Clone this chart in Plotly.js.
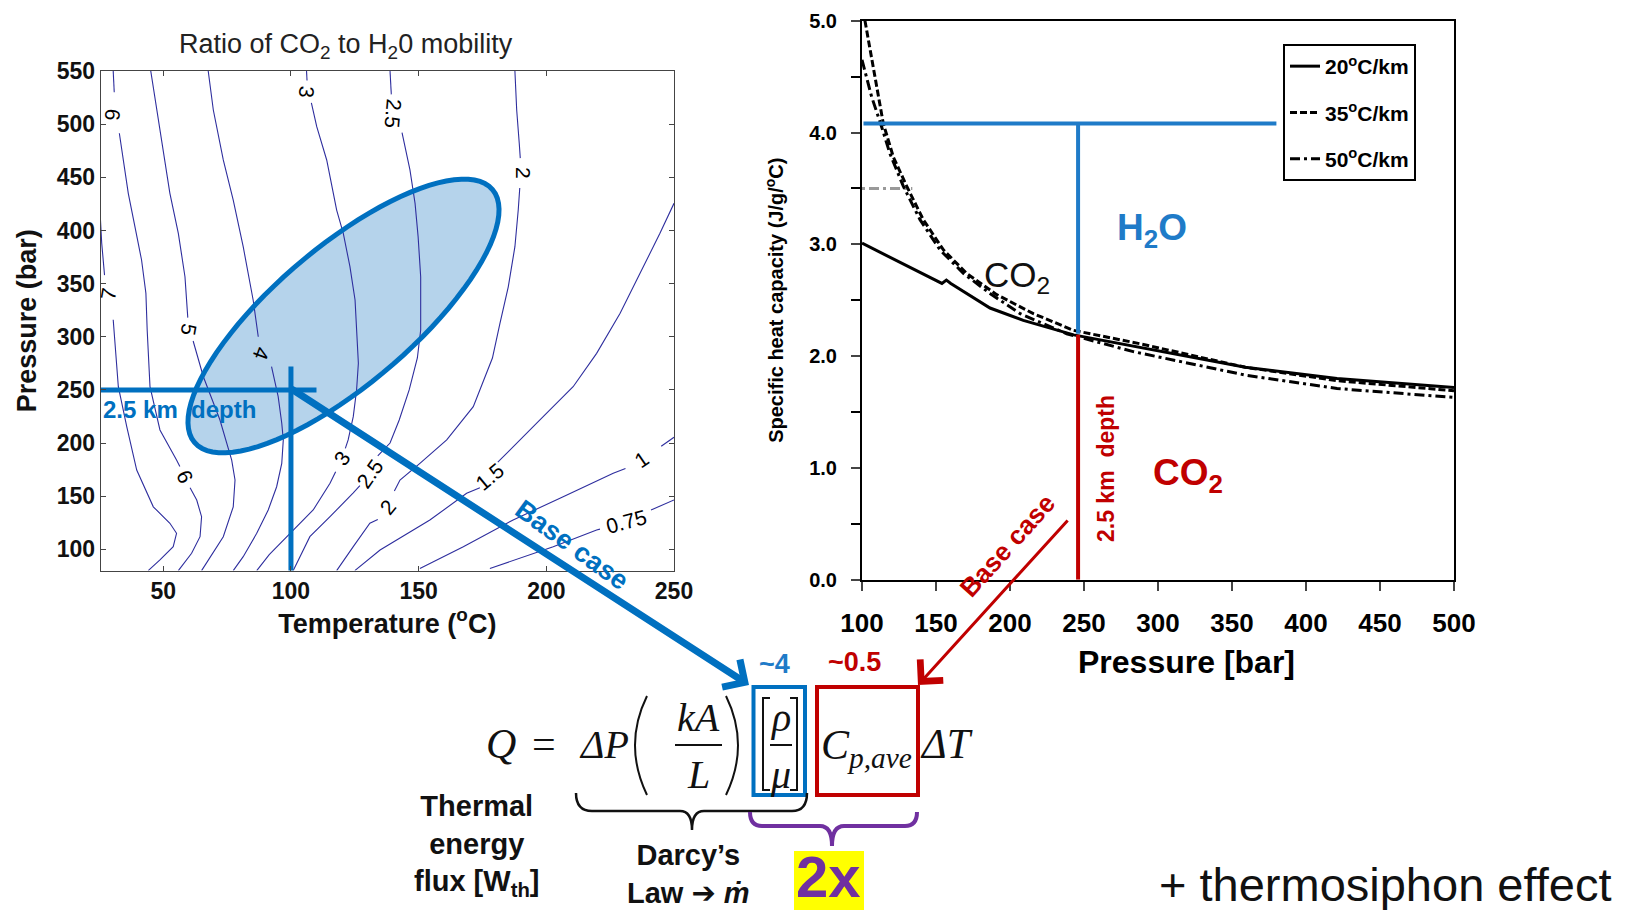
<!DOCTYPE html>
<html><head><meta charset="utf-8">
<script src="https://cdn.plot.ly/plotly-3.0.1.min.js"></script>
<style>html,body{margin:0;padding:0;background:#fff}#chart{width:1627px;height:910px}</style>
</head><body><div id="chart"></div>
<script>
// ---------- Left panel: ratio of CO2 to H2O mobility (contour lines) ----------
const tempTicks = [50, 100, 150, 200, 250];
const presTicks = [100, 150, 200, 250, 300, 350, 400, 450, 500, 550];

const c7T  = [25.3, 25.9, 27.0, null, 30.4, 32.4, 35.7, 39.6, 46.1, 52.6, 55.2, 53.9, 48.7, 44.1];
const c7P  = [415, 388, 358, null, 316, 253, 215.4, 174.6, 140, 124.5, 115.1, 102.5, 90, 80];
const c6T  = [30.4, 30.8, null, 32.8, 34.3, 36.3, 38.9, 41.5, 43.2, 43.7, 44.8, 48.7, 55.2, 56.5, null, 60.5, 63.1, 65, 64.4, 61.1, 55.9];
const c6P  = [550, 530, null, 491.4, 466.3, 434.9, 403.5, 372.2, 340.9, 306.4, 253, 212.3, 184, 178, null, 158, 146.4, 130.7, 111.9, 96.3, 80];
const c5T  = [45.1, 47.4, 49.4, 52.6, 55.9, 58.5, 59.6, null, 61.7, 65.7, 72.2, 76.8, 78.1, 77.4, 73.5, 65];
const c5P  = [550, 513.3, 482, 434.9, 397.3, 356.5, 318, null, 296, 262.4, 221.7, 184, 165.2, 140, 111.9, 80];
const c4T  = [67.6, 69.6, 73.5, 77.4, 81.3, 85.2, 87.2, null, 92.4, 95, 96.4, 97, 96.4, 94.4, 91.1, 86.6, 81.3, 77.4];
const c4P  = [550, 513.3, 466.3, 428.6, 384.7, 334.6, 300, null, 271.8, 243.6, 218.6, 202.9, 180.9, 158.9, 137, 115.1, 93.1, 80];
const c3T  = [106.1, 106.3, null, 108.0, 110.1, 114, 117.9, 120.5, 123.1, 125.1, 125.7, 126.4, 125.7, 124.4, 122.4, 121.3, null, 117.5, 115.3, 108.7, 99.6, 91.5, 86.6];
const c3P  = [550, 541, null, 520, 497.6, 466.3, 419.2, 397.3, 365.9, 334.6, 306.4, 275, 249.9, 224.8, 202.9, 195, null, 173, 162.1, 137, 115.1, 95, 80];
const c25T = [138.8, 139.3, null, 143.5, 146.6, 148.6, 149.8, 150.8, 150.8, 149.5, 146.3, 142.4, 138.8, 134, null, 127, 124.4, 115.3, 107.4, 100.9];
const c25P = [550, 528, null, 492, 456.9, 425.5, 394.1, 356.5, 306.4, 280, 250, 221.7, 200, 188, null, 160, 153.2, 130.7, 111.9, 80];
const c2T  = [187.7, 188.4, 189.4, 189.8, null, 189.6, 189, 187.7, 185.1, 181.8, 178.9, 171.4, 161, 150.5, 142.7, 140.5, null, 134, 130.9, 124.4, 117.9];
const c2P  = [550, 513.3, 482, 468, null, 440, 419.2, 384.7, 347, 312, 280, 234.2, 202.9, 180.9, 165.2, 155, null, 128, 124.5, 102.5, 80];
const c15T = [250, 244.5, 236.7, 228.9, 219.7, 210.5, 197.5, 187, 181, null, 174, 168.8, 154.4, 134.9, 125];
const c15P = [425.5, 397.3, 359.7, 322.1, 284.4, 253, 221.7, 196.6, 182, null, 158, 152.7, 127.6, 99.4, 80];
const c1T  = [250, 245, null, 231, 226.2, 206.6, 187, 167.5, 150.5];
const c1P  = [205.4, 197, null, 176, 171.5, 149.5, 127.6, 102.5, 82];
const c075T = [250, 241, null, 221, 219.7, 202.7, 177.9];
const c075P = [146.4, 137, null, 119, 118.2, 102.5, 82];

const contourLines = [[c7T,c7P],[c6T,c6P],[c5T,c5P],[c4T,c4P],[c3T,c3P],[c25T,c25P],[c2T,c2P],[c15T,c15P],[c1T,c1P],[c075T,c075P]];

// contour level labels: text, temperature, pressure, angle
const levelText  = ['7', '6', '5', '4', '3', '2.5', '2', '6', '3', '2.5', '2', '1.5', '1', '0.75'];
const levelT     = [28.5, 30.4, 59.8, 88.5, 106.1, 140.1, 191, 58.5, 119.8, 130.9, 138.1, 177.9, 237.3, 231.4];
const levelP     = [340.9, 508.6, 306.4, 284.4, 530.5, 510.2, 453.8, 168.3, 185.7, 171.5, 140.1, 168.4, 184.1, 126];
const levelAngle = [-80, 95, 100, 110, 95, 95, 90, 65, -55, -55, -50, -40, -35, -15];

// 2.5 km depth marker (left panel)
const depthHT = [25.5, 110], depthHP = [250, 250];
const depthVT = [100, 100],  depthVP = [272, 78];

// ---------- Right panel: specific heat capacity of CO2 ----------
const pTicks = [100, 150, 200, 250, 300, 350, 400, 450, 500];
const cpTicks = [0, 1, 2, 3, 4, 5];

const p20  = [100, 154, 157, 160, 186.5, 209, 243, 288, 359, 421, 500];
const cp20 = [3.01, 2.65, 2.68, 2.65, 2.43, 2.32, 2.19, 2.08, 1.90, 1.80, 1.72];
const p35  = [102, 107.7, 114.4, 121.2, 130.2, 141.4, 155, 170.7, 191, 215.8, 243, 288, 359, 421, 500];
const cp35 = [5.0, 4.59, 4.08, 3.78, 3.52, 3.22, 2.95, 2.74, 2.55, 2.38, 2.23, 2.11, 1.90, 1.78, 1.69];
const p50  = [100, 106.5, 113.3, 118.9, 127.9, 139.2, 152.7, 168.5, 186.5, 206.8, 238.3, 283.3, 359, 421, 500];
const cp50 = [4.65, 4.32, 4.05, 3.81, 3.52, 3.22, 2.95, 2.74, 2.56, 2.38, 2.20, 2.04, 1.83, 1.71, 1.63];
const seriesNames = ['20<sup>o</sup>C/km', '35<sup>o</sup>C/km', '50<sup>o</sup>C/km'];

const greyP = [100, 134], greyCp = [3.5, 3.5];
const h2oHP = [101, 380], h2oHCp = [4.08, 4.08];
const h2oVP = [246, 246], h2oVCp = [4.08, 2.2];
const co2VP = [246, 246], co2VCp = [2.19, 0];

// ---------- geometry helpers (pixel -> paper) ----------
const W = 1627, H = 910;
const fx = x => x / W, fy = y => 1 - y / H;
const pathPx = s => s.replace(/(-?[\d.]+),(-?[\d.]+)/g, (m, a, b) => fx(+a).toFixed(5) + ',' + fy(+b).toFixed(5));

const SANS = 'Liberation Sans, Arial, sans-serif';
const NARROW = 'Liberation Sans Narrow, Arial Narrow, Liberation Sans, Arial, sans-serif';
const SERIF = 'Liberation Serif, Times New Roman, serif';
const BLUE = '#0070C0', BLUE2 = '#1F7BC8', RED = '#C00000', PURPLE = '#7030A0';

const traces = [];
contourLines.forEach(([t, p]) => traces.push({
  x: t, y: p, xaxis: 'x', yaxis: 'y', mode: 'lines', showlegend: false, hoverinfo: 'skip',
  line: {color: '#2e2e9e', width: 1.1}
}));
traces.push({x: depthHT, y: depthHP, xaxis: 'x', yaxis: 'y', mode: 'lines', showlegend: false, line: {color: BLUE, width: 5}});
traces.push({x: depthVT, y: depthVP, xaxis: 'x', yaxis: 'y', mode: 'lines', showlegend: false, line: {color: BLUE, width: 5}, cliponaxis: false});

traces.push({x: greyP, y: greyCp, xaxis: 'x2', yaxis: 'y2', mode: 'lines', showlegend: false, line: {color: '#999', width: 3, dash: '3px,4px,10px,4px'}});
traces.push({x: p20, y: cp20, xaxis: 'x2', yaxis: 'y2', mode: 'lines', name: seriesNames[0], legendgroup: 'a', line: {color: '#000', width: 3}});
traces.push({x: p35, y: cp35, xaxis: 'x2', yaxis: 'y2', mode: 'lines', name: seriesNames[1], legendgroup: 'b', line: {color: '#000', width: 3, dash: '7px,3px'}});
traces.push({x: p50, y: cp50, xaxis: 'x2', yaxis: 'y2', mode: 'lines', name: seriesNames[2], legendgroup: 'c', line: {color: '#000', width: 3, dash: '10px,4px,3px,4px'}});
traces.push({x: h2oHP, y: h2oHCp, xaxis: 'x2', yaxis: 'y2', mode: 'lines', showlegend: false, line: {color: BLUE2, width: 4}});
traces.push({x: h2oVP, y: h2oVCp, xaxis: 'x2', yaxis: 'y2', mode: 'lines', showlegend: false, line: {color: BLUE2, width: 4}});
traces.push({x: co2VP, y: co2VCp, xaxis: 'x2', yaxis: 'y2', mode: 'lines', showlegend: false, line: {color: RED, width: 4}});

// ---------- ellipse (operating window) ----------
const ex = 343.5, ey = 316, ea = 195.4, eb = 68.9, eth = 40.3 * Math.PI / 180;
let ep = [];
for (let i = 0; i <= 90; i++) {
  const t = 2 * Math.PI * i / 90;
  const X = ex + ea * Math.cos(t) * Math.cos(eth) + eb * Math.sin(t) * Math.sin(eth);
  const Y = ey - ea * Math.cos(t) * Math.sin(eth) + eb * Math.sin(t) * Math.cos(eth);
  ep.push(fx(X).toFixed(5) + ',' + fy(Y).toFixed(5));
}
const ellipsePath = 'M' + ep.join('L') + 'Z';

const shapes = [
  {type: 'path', xref: 'paper', yref: 'paper', path: ellipsePath, fillcolor: '#B5D3EB', line: {width: 0}, layer: 'below'},
  {type: 'path', xref: 'paper', yref: 'paper', path: ellipsePath, line: {color: BLUE, width: 5}},
  // equation parentheses / brackets / fraction bars
  {type: 'path', xref: 'paper', yref: 'paper', path: pathPx('M647,696 Q623,745 647,795'), line: {color: '#111', width: 2}},
  {type: 'path', xref: 'paper', yref: 'paper', path: pathPx('M726,696 Q750,745 726,795'), line: {color: '#111', width: 2}},
  {type: 'path', xref: 'paper', yref: 'paper', path: pathPx('M770,698 L763,698 L763,790 L770,790'), line: {color: '#111', width: 2}},
  {type: 'path', xref: 'paper', yref: 'paper', path: pathPx('M790,698 L797,698 L797,790 L790,790'), line: {color: '#111', width: 2}},
  {type: 'line', xref: 'paper', yref: 'paper', x0: fx(675), x1: fx(722), y0: fy(745), y1: fy(745), line: {color: '#111', width: 2}},
  {type: 'line', xref: 'paper', yref: 'paper', x0: fx(770), x1: fx(792), y0: fy(745), y1: fy(745), line: {color: '#111', width: 2}},
  // boxes
  {type: 'rect', xref: 'paper', yref: 'paper', x0: fx(753.5), x1: fx(805), y0: fy(687), y1: fy(795), line: {color: BLUE, width: 4}},
  {type: 'rect', xref: 'paper', yref: 'paper', x0: fx(817), x1: fx(918), y0: fy(687), y1: fy(795), line: {color: RED, width: 4}},
  // braces
  {type: 'path', xref: 'paper', yref: 'paper', path: pathPx('M576,793 Q576,811 592,811 L680,811 Q692,811 692,830 Q692,811 704,811 L792,811 Q807,811 807,793'), line: {color: '#111', width: 2.5}},
  {type: 'path', xref: 'paper', yref: 'paper', path: pathPx('M750,812 Q750,826 762,826 L820,826 Q832,826 832,846 Q832,826 844,826 L905,826 Q917,826 917,812'), line: {color: PURPLE, width: 4}},
  // yellow highlight
  {type: 'rect', xref: 'paper', yref: 'paper', x0: fx(794), x1: fx(864), y0: fy(851), y1: fy(910), fillcolor: '#FFFF00', line: {width: 0}}
];

const A = (x, y, text, o = {}) => Object.assign({xref: 'paper', yref: 'paper', x: fx(x), y: fy(y), text, showarrow: false, xanchor: 'center', yanchor: 'middle'}, o);
const serif = (size) => ({family: SERIF, size, style: 'italic', color: '#111'});

const annotations = [];
levelText.forEach((t, i) => annotations.push({xref: 'x', yref: 'y', x: levelT[i], y: levelP[i], text: t, showarrow: false, textangle: levelAngle[i], font: {family: SANS, size: 21, color: '#000'}}));
annotations.push(
  A(346, 46, 'Ratio of CO<sub>2</sub> to H<sub>2</sub>0 mobility', {font: {family: SANS, size: 27, color: '#222'}}),
  A(101, 410, '2.5 km\u00a0 depth', {xanchor: 'left', font: {family: SANS, size: 24, weight: 700, color: BLUE}}),
  // blue base-case arrow
  A(749, 685, '', {showarrow: true, ax: 290 - 749, ay: 388 - 685, arrowcolor: BLUE, arrowwidth: 7, arrowhead: 4, arrowsize: 0.9, standoff: 0}),
  A(572, 545, 'Base case', {textangle: 36, font: {family: SANS, size: 27, weight: 700, color: BLUE}}),
  // red base-case arrow
  A(918, 685, '', {showarrow: true, ax: 1069 - 918, ay: 519 - 685, arrowcolor: RED, arrowwidth: 3, arrowhead: 4, arrowsize: 2, standoff: 0}),
  A(1007, 546, 'Base case', {textangle: -48, font: {family: SANS, size: 26, weight: 700, color: RED}}),
  // right panel labels
  A(1152, 230, 'H<sub>2</sub>O', {font: {family: SANS, size: 37, weight: 700, color: BLUE2}}),
  A(1188, 475, 'CO<sub>2</sub>', {font: {family: SANS, size: 37, weight: 700, color: RED}}),
  A(1017, 277, 'CO<sub>2</sub>', {font: {family: SANS, size: 35, color: '#111'}}),
  A(1106, 469, '2.5 km\u00a0 depth', {textangle: -90, font: {family: SANS, size: 23, weight: 700, color: RED}}),
  // right x-axis title
  A(1186, 662, 'Pressure [bar]', {font: {family: NARROW, size: 32, weight: 700, color: '#000'}}),
  // equation
  A(501, 744, 'Q', {font: serif(42)}),
  A(544, 744, '=', {font: {family: SERIF, size: 42, color: '#111'}}),
  A(604, 744, 'ΔP', {font: serif(40)}),
  A(698, 717, 'kA', {font: serif(40)}),
  A(698, 774, 'L', {font: serif(40)}),
  A(780, 717, 'ρ', {font: serif(40)}),
  A(780, 774, 'μ', {font: serif(40)}),
  A(819, 748, 'C<sub>p,ave</sub>', {xanchor: 'left', font: serif(42)}),
  A(946, 744, 'ΔT', {font: serif(42)}),
  A(774, 664, '~4', {font: {family: SANS, size: 27, weight: 700, color: BLUE2}}),
  A(854, 662, '~0.5', {font: {family: SANS, size: 27, weight: 700, color: RED}}),
  A(477, 845, 'Thermal<br>energy<br>flux [W<sub>th</sub>]', {font: {family: SANS, size: 29, weight: 700, color: '#111'}}),
  A(688, 874, 'Darcy\u2019s<br>Law <span style="font-family:DejaVu Sans">\u2794</span> <i>\u1e41</i>', {font: {family: SANS, size: 29, weight: 700, color: '#111'}}),
  A(829, 876, '2x', {font: {family: SANS, size: 58, weight: 700, color: PURPLE}}),
  A(1385, 884, '+ thermosiphon effect', {font: {family: SANS, size: 47, color: '#111'}})
);

const layout = {
  width: W, height: H, margin: {l: 0, r: 0, t: 0, b: 0},
  paper_bgcolor: '#fff', plot_bgcolor: 'rgba(0,0,0,0)',
  showlegend: true,
  legend: {x: fx(1283), y: fy(44), xanchor: 'left', yanchor: 'top', bgcolor: '#fff', bordercolor: '#000', borderwidth: 2,
           font: {family: NARROW, size: 21, weight: 700, color: '#000'}, itemwidth: 30, tracegroupgap: 16},
  xaxis: {domain: [fx(100.7), fx(674)], range: [25.5, 250], tickvals: tempTicks, ticks: 'inside', ticklen: 5,
          mirror: 'allticks', showline: true, linecolor: '#444', linewidth: 1, showgrid: false, zeroline: false,
          tickfont: {family: SANS, size: 23, weight: 700, color: '#111'},
          title: {text: 'Temperature (<sup>o</sup>C)', standoff: 10, font: {family: SANS, size: 27, weight: 700, color: '#111'}}},
  yaxis: {domain: [fy(570.6), fy(71)], range: [80, 550], tickvals: presTicks, ticks: 'inside', ticklen: 5,
          mirror: 'allticks', showline: true, linecolor: '#444', linewidth: 1, showgrid: false, zeroline: false,
          tickfont: {family: SANS, size: 23, weight: 700, color: '#111'},
          title: {text: 'Pressure (bar)', standoff: 12, font: {family: SANS, size: 27, weight: 700, color: '#111'}}},
  xaxis2: {domain: [fx(862), fx(1454)], range: [100, 500], tickvals: pTicks, ticks: 'outside', ticklen: 9, tickwidth: 2,
           showline: true, mirror: true, linecolor: '#000', linewidth: 2, showgrid: false, zeroline: false, anchor: 'y2',
           ticklabelstandoff: 10,
           tickfont: {family: NARROW, size: 26, weight: 700, color: '#000'}},
  yaxis2: {domain: [fy(579.7), fy(20.7)], range: [0, 5], tickvals: cpTicks, tickformat: '.1f', ticks: 'outside', ticklen: 9, tickwidth: 2,
           minor: {dtick: 0.5, ticks: 'outside', ticklen: 9, tickwidth: 2, tickcolor: '#000'},
           showline: true, mirror: true, linecolor: '#000', linewidth: 2, showgrid: false, zeroline: false, anchor: 'x2',
           ticklabelstandoff: 10,
           tickfont: {family: SANS, size: 20, weight: 700, color: '#000'},
           title: {text: 'Specific heat capacity (J/g/<sup>o</sup>C)', standoff: 20, font: {family: SANS, size: 20, weight: 700, color: '#000'}}},
  shapes, annotations
};

Plotly.newPlot('chart', traces, layout, {staticPlot: true});
</script></body></html>
